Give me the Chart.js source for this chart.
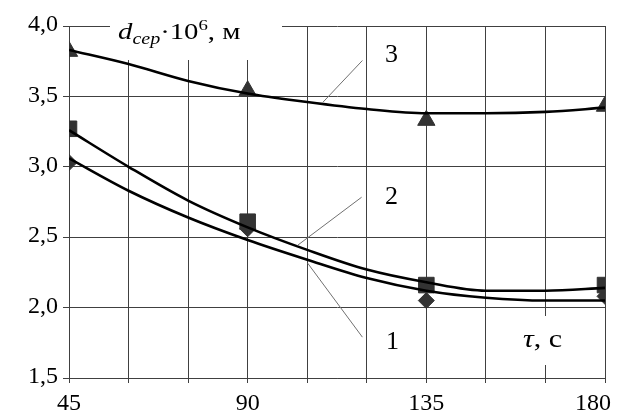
<!DOCTYPE html>
<html>
<head>
<meta charset="utf-8">
<script src="https://cdn.jsdelivr.net/npm/chart.js@4/dist/chart.umd.min.js"></script>
<style>
  html, body { margin: 0; padding: 0; background: #fff; }
  #wrap { width: 621px; height: 412px; position: relative; }
</style>
</head>
<body>
<div id="wrap"><canvas id="chart"></canvas></div>
<script>
// DATA
const tau = [45, 90, 135, 180];
const d1 = [3.03, 2.56, 2.05, 2.08];
const d2 = [3.27, 2.61, 2.16, 2.16];
const d3 = [3.82, 3.54, 3.33, 3.43];

// smoothed trend curves, read at every grid line
const fitTau = [45, 60, 75, 90, 105, 120, 135, 150, 165, 180];
const fit1 = [3.06, 2.83, 2.64, 2.48, 2.34, 2.21, 2.12, 2.07, 2.05, 2.05];
const fit2 = [3.26, 3.00, 2.76, 2.57, 2.41, 2.27, 2.18, 2.12, 2.12, 2.14];
const fit3 = [3.83, 3.73, 3.61, 3.52, 3.46, 3.41, 3.38, 3.38, 3.39, 3.42];

const xTicks = [45, 90, 135, 180];

// curve numbers and their leader lines (data units)
const curveNames = ['1', '2', '3'];
const nameX = [126.5, 126.2, 126.2];
const nameY = [1.755, 2.784, 3.79];
const leadX0 = [105.1, 102.6, 108.9];
const leadY0 = [2.316, 2.443, 3.457];
const leadX1 = [118.9, 118.7, 118.9];
const leadY1 = [1.79, 2.784, 3.755];

const SERIF = '"Liberation Serif", "Times New Roman", serif';
const GRID = '#404040';
const MARK = '#333333';
const TICK_FONT = 24;
const X_TICK_LEN = 5, X_TICK_PAD = 6;

const pts = (xs, ys) => xs.map((x, i) => ({ x, y: ys[i] }));

// HELPERS
function fitLine(data) {
  return { data, borderColor: '#000', borderWidth: 2.6, pointRadius: 0, fill: false, cubicInterpolationMode: 'monotone' };
}
function markers(data, style, r) {
  return { data, showLine: false, pointStyle: style, pointRadius: r, pointHoverRadius: r, backgroundColor: MARK, borderColor: MARK, borderWidth: 1 };
}

// rich text drawn with a slight horizontal stretch, like the original scan
function richText(ctx, parts, x0, y0, sx) {
  ctx.save();
  ctx.translate(x0, y0);
  ctx.scale(sx, 1);
  let x = 0;
  parts.forEach(([txt, font, dy]) => {
    ctx.font = font + ' ' + SERIF;
    ctx.fillText(txt, x, dy);
    x += ctx.measureText(txt).width;
  });
  ctx.restore();
}

// ANNOTATIONS
const axisTitles = {
  id: 'axisTitles',
  beforeDatasetsDraw(chart) {
    const { ctx, chartArea: a } = chart;
    ctx.save();
    ctx.fillStyle = '#fff';
    ctx.fillRect(a.left + 41, a.top - 2, 172, 36);
    ctx.fillRect(a.right - 92, a.top + 290, 60, 49);
    ctx.fillStyle = '#000';
    ctx.textBaseline = 'alphabetic';
    richText(ctx, [
      ['d', 'italic 23px', 0],
      ['cep', 'italic 16px', 5],
      ['·10', '23px', 0],
      ['6', '15px', -9],
      [', м', '23px', 0]
    ], a.left + 49, a.top + 13, 1.25);
    richText(ctx, [
      ['τ', 'italic 25px', 0],
      [', с', '25px', 0]
    ], a.right - 82, a.top + 321, 1.2);
    ctx.restore();
  },
  afterDatasetsDraw(chart) {
    const { ctx, scales: { x, y } } = chart;
    ctx.save();
    ctx.strokeStyle = '#707070';
    ctx.lineWidth = 1;
    ctx.fillStyle = '#000';
    ctx.font = '26px ' + SERIF;
    ctx.textAlign = 'center';
    ctx.textBaseline = 'middle';
    curveNames.forEach((n, i) => {
      ctx.beginPath();
      ctx.moveTo(x.getPixelForValue(leadX0[i]), y.getPixelForValue(leadY0[i]));
      ctx.lineTo(x.getPixelForValue(leadX1[i]), y.getPixelForValue(leadY1[i]));
      ctx.stroke();
      ctx.fillText(n, x.getPixelForValue(nameX[i]), y.getPixelForValue(nameY[i]));
    });
    ctx.restore();
  },
  // the last x label sits against the right edge, as in the original
  afterDraw(chart) {
    const { ctx, chartArea: a, scales: { x } } = chart;
    const last = xTicks[xTicks.length - 1];
    ctx.save();
    ctx.fillStyle = '#000';
    ctx.font = TICK_FONT + 'px ' + SERIF;
    ctx.textAlign = 'right';
    ctx.textBaseline = 'middle';
    ctx.fillText(String(last), x.getPixelForValue(last) + 6, a.bottom + X_TICK_LEN + X_TICK_PAD + TICK_FONT * 0.6);
    ctx.restore();
  }
};

// CHART
new Chart(document.getElementById('chart'), {
  type: 'line',
  data: {
    datasets: [
      fitLine(pts(fitTau, fit3)),
      fitLine(pts(fitTau, fit2)),
      fitLine(pts(fitTau, fit1)),
      markers(pts(tau, d3), 'triangle', 10),
      markers(pts(tau, d2), 'rect', 11),
      markers(pts(tau, d1), 'rectRot', 8)
    ]
  },
  options: {
    responsive: true,
    maintainAspectRatio: false,
    animation: false,
    layout: { padding: { top: 26, right: 16, left: 0, bottom: 0 } },
    plugins: { legend: { display: false }, tooltip: { enabled: false } },
    scales: {
      x: {
        type: 'linear', min: 45, max: 180,
        afterFit: s => { s.height = 34; s.paddingRight = 0; s.paddingLeft = 0; },
        ticks: {
          stepSize: 15, autoSkip: false, maxRotation: 0, padding: X_TICK_PAD, color: '#000',
          font: { family: SERIF, size: TICK_FONT },
          callback: v => (xTicks.includes(v) && v !== xTicks[xTicks.length - 1]) ? String(v) : ''
        },
        grid: { color: GRID, lineWidth: 1, tickLength: X_TICK_LEN },
        border: { display: true, color: GRID, width: 1 }
      },
      y: {
        min: 1.5, max: 4.0,
        afterFit: s => { s.width = 69; },
        ticks: {
          stepSize: 0.5, padding: 5, labelOffset: -1, color: '#000',
          font: { family: SERIF, size: TICK_FONT },
          callback: v => v.toFixed(1).replace('.', ',')
        },
        grid: { color: GRID, lineWidth: 1, tickLength: 6 },
        border: { display: true, color: GRID, width: 1 }
      }
    }
  },
  plugins: [axisTitles]
});
</script>
</body>
</html>
